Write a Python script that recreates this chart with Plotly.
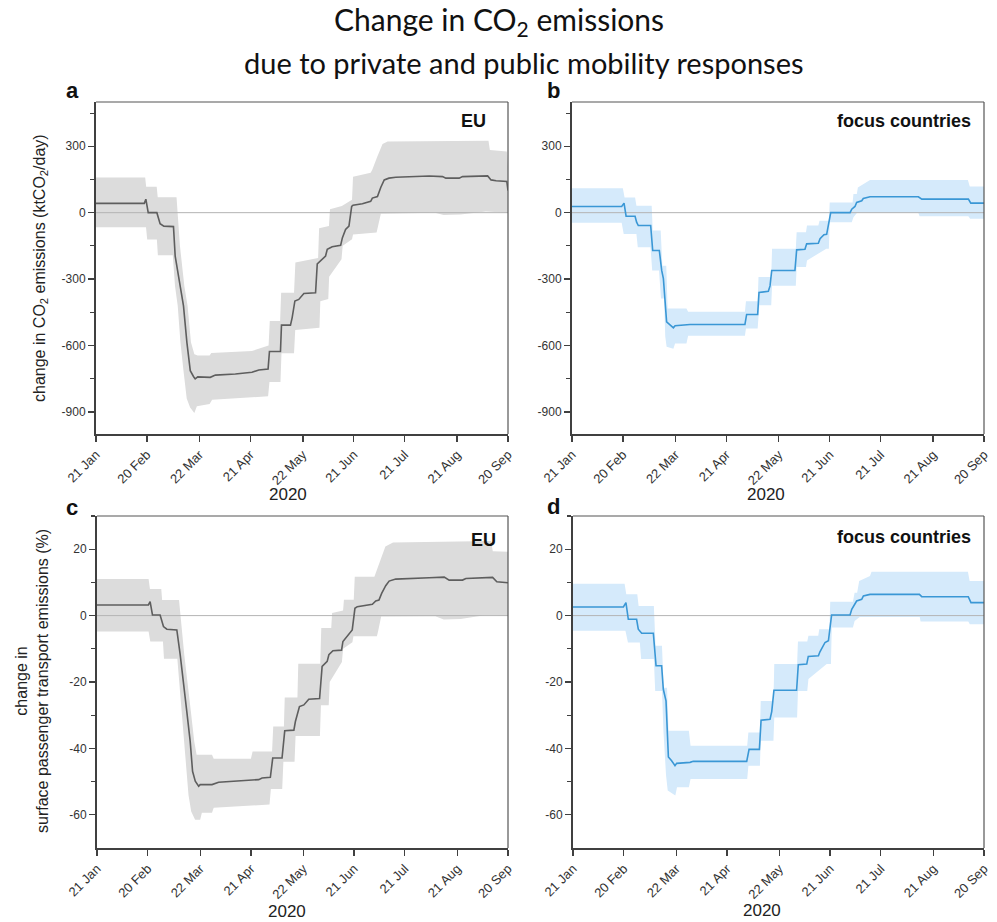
import plotly.graph_objects as go

# ---------------- data (x = days since 21 Jan 2020) ----------------
tick_days = [0, 30, 61, 91, 122, 152, 182, 213, 243]
tick_labels = ["21 Jan", "20 Feb", "22 Mar", "21 Apr", "22 May", "21 Jun", "21 Jul", "21 Aug", "20 Sep"]

kt_ticks = [-900, -600, -300, 0, 300]
kt_tick_labels = ["-900", "-600", "-300", "0", "300"]
kt_minor = [-750, -450, -150, 150, 450]
pct_ticks = [-60, -40, -20, 0, 20]
pct_tick_labels = ["-60", "-40", "-20", "0", "20"]
pct_minor = [-50, -30, -10, 10, 30]

# panel a: EU, ktCO2/day
a_mid_d = [0, 28.5, 29.4, 30.2, 30.8, 35.9, 37.8, 40, 45.7, 46.7, 49.7, 51.6, 53.6, 55.6, 57.5, 58.5, 60, 67.4, 70.4, 82.2,
           92, 96, 101.5, 102.3, 108.8, 109.4, 114.7, 115.7, 117.3, 119.6, 122.6, 129.5, 130.5, 133.4, 135.4, 136.4, 139.3, 144.3, 145.3, 147.2,
           149.2, 150.8, 151.6, 157.1, 162, 163, 166, 168, 170, 172.8, 176.8, 196.5, 204.4, 206.3, 214.2, 216.2, 231, 233, 236, 242.3, 243]
a_mid_v = [42, 42, 61, 30, 0, 0, -50, -61, -63, -196, -331, -421, -586, -714, -740, -751, -742, -744, -734, -729,
           -721, -711, -706, -627, -627, -508, -508, -474, -399, -392, -365, -362, -231, -212, -196, -166, -154, -147, -114, -76,
           -61, 28, 34, 40, 51, 66, 73, 115, 148, 156, 160, 166, 163, 156, 156, 163, 166, 148, 144, 141, 100]
a_up_d = [0, 29, 29.6, 35.8, 36.4, 47.5, 49.5, 52.1, 54, 56, 58, 60, 67, 68, 92, 96, 101.8, 102.5, 108.6, 109.2,
          116.8, 117.6, 131, 131.6, 137.4, 138, 145, 151, 151.6, 162, 163, 166, 169, 172, 231.5, 232.3, 242.3, 243]
a_up_v = [159, 159, 117, 117, 70, 70, -150, -331, -421, -586, -640, -645, -645, -634, -625, -615, -600, -490, -490, -362,
          -362, -225, -205, -70, -60, 15, 30, 58, 162, 180, 195, 255, 310, 321, 325, 283, 276, 210]
a_lo_d = [0, 29.5, 30.2, 35.9, 36.5, 45.3, 46.6, 48.2, 49.8, 51.6, 53.5, 55.5, 58, 59.5, 67, 68.5, 101.5, 102.3, 108.8, 109.4,
          116.8, 117.5, 131.8, 132.3, 137, 137.5, 144.8, 145.5, 151, 151.6, 165.5, 166.5, 168, 200, 205, 215, 230, 243]
a_lo_v = [-66, -66, -121, -121, -192, -192, -331, -421, -586, -714, -840, -880, -905, -875, -865, -845, -830, -765, -765, -635,
          -635, -530, -520, -400, -390, -290, -210, -150, -120, -99, -90, -50, -5, 0, -10, -8, 5, 0]

# panel b: focus countries, ktCO2/day
b_mid_d = [0, 29.3, 30.7, 31.9, 37.2, 38.1, 39.1, 46.4, 47.6, 51.5, 52.9, 53.9, 55.8, 57.8, 59.8, 60.8, 69.6, 102, 103, 109.5,
           110.3, 115.8, 116.8, 117.8, 131.5, 132.5, 137.4, 138.4, 145.3, 146.3, 148.6, 150.2, 152.6, 164, 165, 166.9, 167.9, 170.9, 171.8, 175.8,
           204.3, 206.3, 233.8, 235.2, 243]
b_mid_v = [28, 28, 43, -16, -16, -43, -58, -58, -171, -171, -261, -298, -493, -505, -520, -511, -505, -505, -460, -460,
           -361, -355, -331, -261, -261, -168, -165, -141, -138, -118, -100, -98, 0, 0, 16, 28, 46, 54, 64, 72,
           72, 61, 61, 43, 43]
b_up_d = [0, 30, 31, 37.2, 38, 47, 47.6, 52.3, 53.3, 55.6, 56.4, 67.5, 68.5, 102, 102.6, 109.5, 110, 117.5, 118, 132,
          132.5, 138, 138.6, 145.3, 146, 151.5, 152, 165.5, 166, 168, 168.6, 175.8, 233.5, 234.6, 243]
b_up_v = [110, 110, 69, 69, 31, 31, -81, -81, -240, -240, -433, -433, -448, -448, -400, -400, -291, -291, -163, -163,
          -88, -88, -58, -58, -36, -36, 46, 46, 84, 84, 114, 148, 148, 118, 118]
b_lo_d = [0, 29.3, 30.5, 38, 38.8, 46.3, 47.3, 51.3, 52.5, 54.3, 55, 55.8, 59.8, 60.8, 67.5, 68.5, 102, 102.6, 109.5, 110.5,
          117.5, 118, 132, 132.5, 138, 138.6, 150, 151.5, 152, 165, 166, 168, 204.3, 205, 233.8, 234.8, 243]
b_lo_v = [-46, -46, -96, -96, -156, -156, -261, -261, -388, -388, -560, -606, -615, -591, -591, -556, -556, -523, -523, -418,
          -418, -330, -330, -246, -246, -216, -163, -163, -43, -43, -21, -1, -1, -16, -16, -28, -28]

# panel c: EU, % of surface passenger transport emissions
c_mid_d = [0, 30.4, 31.4, 32.8, 37.3, 39.3, 41.3, 47.2, 49.2, 51.2, 53.1, 55.1, 56.5, 58.1, 60.1, 61, 68, 71.9, 83.8, 95.6,
           97.6, 102.5, 103.9, 109.4, 111, 116.4, 117.3, 119.7, 122.3, 125.2, 131.6, 133.1, 136.1, 137.1, 139.5, 144.6, 145.4, 148, 150.9, 152.5,
           153.9, 162.8, 164.8, 166.7, 168.3, 170.7, 172.7, 176.6, 192.4, 196.4, 205.3, 208.2, 216.1, 218.1, 233.9, 236.4, 243]
c_mid_v = [3.2, 3.2, 4.2, 0.2, 0.2, -3.3, -4.1, -4.3, -11.8, -19.8, -28.9, -37.9, -46.9, -49.9, -51.4, -50.9, -50.9, -50.2, -49.9, -49.4,
           -48.9, -48.7, -42.9, -42.9, -34.7, -34.5, -31.9, -27.4, -26.9, -25.2, -25.0, -15.3, -13.8, -11.8, -10.6, -10.4, -7.8, -6.3, -4.3, 2.2,
           2.7, 3.4, 4.4, 4.7, 6.7, 9.0, 10.4, 11.0, 11.2, 11.4, 11.6, 10.7, 10.7, 11.2, 11.5, 10.2, 9.9]
c_up_d = [0, 30.5, 31.3, 38, 38.5, 48.5, 51.6, 53.6, 55.5, 57.5, 58.9, 68, 69, 91, 92, 103.5, 104.2, 110.5, 111, 118.5,
          119, 132, 132.6, 138.5, 139, 145.5, 146, 151.8, 152.4, 164, 165, 167.5, 170.5, 175, 233, 234, 243]
c_up_v = [11, 11, 8, 8, 4.7, 4.7, -11.8, -19.8, -28.9, -37.9, -41.9, -41.9, -43.1, -43.1, -40.9, -40.9, -33.4, -33.4, -24.7, -24.7,
          -14.5, -14.5, -3.7, -3.7, 0.8, 1.5, 4.8, 4.8, 11.7, 11.7, 13.2, 16.7, 20.8, 22, 22.5, 19.4, 19.2]
c_lo_d = [0, 30.5, 31.5, 39, 39.6, 47.5, 48.8, 50.7, 52.7, 54.1, 55.7, 58, 61, 62, 68, 69, 102, 102.8, 109.5, 110.2,
          116.8, 117.4, 131.8, 132.4, 137, 137.6, 144.8, 145.5, 151, 151.6, 165.5, 166.3, 168, 200, 205, 215, 230, 243]
c_lo_v = [-4.8, -4.8, -7.8, -7.8, -13, -13, -22, -33, -45, -54, -59, -61.5, -61.5, -59.4, -59.4, -57.9, -56.9, -52.2, -52.2, -44,
          -44, -36.3, -36.3, -27, -27, -20, -14, -10, -8, -6.2, -6.2, -4.5, -0.3, -0.2, -1.2, -1.0, 0.2, 0]

# panel d: focus countries, %
d_mid_d = [0, 29.8, 31.3, 32.7, 37.6, 38.6, 40.6, 47.5, 49.1, 52.4, 53.4, 55, 56.4, 58.3, 60.3, 61.3, 69.2, 71.1, 102.7, 104.1,
           110.2, 111.2, 116.5, 117.5, 118.8, 132.2, 133.2, 138.2, 139.1, 145.1, 146, 149, 151, 152.9, 163.8, 164.8, 167.7, 170.7, 171.7, 175.6,
           204.8, 206.2, 233.7, 235.3, 243]
d_mid_v = [2.6, 2.6, 3.9, -1.1, -1.1, -4.1, -5.3, -5.3, -15.1, -15.1, -22.2, -25.7, -42.6, -43.7, -45.2, -44.5, -44.2, -43.9, -43.9, -40.3,
           -40.3, -31.5, -31.2, -28.9, -22.5, -22.5, -14.8, -14.6, -12.3, -12.1, -10.9, -8.1, -7.6, 0.2, 0.2, 1.9, 4.4, 4.9, 5.9, 6.4,
           6.4, 5.7, 5.7, 3.9, 3.9]
d_up_d = [0, 30.5, 31.5, 38, 38.8, 47.8, 48.8, 52.6, 53.6, 55.6, 56.5, 68.5, 69.5, 103, 103.7, 110.5, 111, 118.5, 119, 132.5,
          133, 138.5, 139.2, 145, 145.6, 151.6, 152.1, 165.5, 166.5, 168, 169.2, 175.6, 176.5, 233.5, 234.5, 243]
d_up_v = [9.6, 9.6, 6.4, 6.4, 2.9, 2.9, -9.1, -9.1, -21.7, -21.7, -34.7, -34.7, -39.2, -39.2, -35.2, -35.2, -25.7, -25.7, -14.6, -14.6,
          -7.8, -7.8, -6.1, -6.1, -4.1, -4.1, 4.2, 4.2, 6.9, 6.9, 10.4, 11.9, 13.2, 13.2, 10.4, 10.4]
d_lo_d = [0, 31, 32.5, 39.5, 40.3, 47.8, 48.6, 52.6, 53.5, 55, 56, 60.5, 61.5, 68.5, 69.5, 103, 103.7, 110.5, 111, 118.5,
          119, 132.5, 133, 138.5, 139.2, 150, 152.5, 153, 165.5, 166.5, 169.5, 205, 205.5, 233.7, 234.6, 243]
d_lo_v = [-4.6, -4.6, -8.1, -8.1, -13.1, -13.1, -22.7, -22.7, -35, -48, -52.7, -54.2, -51.7, -51.7, -49.2, -49.2, -45.2, -45.2, -37.7, -37.7,
          -30.7, -30.7, -22.7, -22.7, -19.1, -14.6, -14.6, -3.6, -3.6, -1.6, -0.4, -0.4, -1.8, -1.8, -2.6, -2.6]

# ---------------- styling ----------------
W, H = 997, 922
FONT = "Liberation Sans, Arial, sans-serif"
AX = "#404040"
EU_LINE, EU_BAND = "#5e5e5e", "#dcdcdc"
FC_LINE, FC_BAND = "#3a97d5", "#d5eafb"

panels = [
    dict(s="", xd=(96, 508), yd=(102, 434),
         mid=(a_mid_d, a_mid_v), up=(a_up_d, a_up_v), lo=(a_lo_d, a_lo_v),
         line=EU_LINE, band=EU_BAND, yr=(-1000, 500),
         yt=(kt_ticks, kt_tick_labels, kt_minor)),
    dict(s="2", xd=(572, 984), yd=(102, 434),
         mid=(b_mid_d, b_mid_v), up=(b_up_d, b_up_v), lo=(b_lo_d, b_lo_v),
         line=FC_LINE, band=FC_BAND, yr=(-1000, 500),
         yt=(kt_ticks, kt_tick_labels, kt_minor)),
    dict(s="3", xd=(97, 508), yd=(516, 848),
         mid=(c_mid_d, c_mid_v), up=(c_up_d, c_up_v), lo=(c_lo_d, c_lo_v),
         line=EU_LINE, band=EU_BAND, yr=(-70, 30),
         yt=(pct_ticks, pct_tick_labels, pct_minor)),
    dict(s="4", xd=(573, 984), yd=(516, 848),
         mid=(d_mid_d, d_mid_v), up=(d_up_d, d_up_v), lo=(d_lo_d, d_lo_v),
         line=FC_LINE, band=FC_BAND, yr=(-70, 30),
         yt=(pct_ticks, pct_tick_labels, pct_minor)),
]

fig = go.Figure()
layout = dict(width=W, height=H, margin=dict(l=0, r=0, t=0, b=0, pad=0, autoexpand=False), autosize=False,
              paper_bgcolor="white", plot_bgcolor="white", showlegend=False,
              font=dict(family=FONT, color="#222"))
shapes = []

for p in panels:
    xs, ys = "x" + p["s"], "y" + p["s"]
    ud, uv = p["up"]
    ld, lv = p["lo"]
    fig.add_trace(go.Scatter(x=ud + ld[::-1], y=uv + lv[::-1], fill="toself",
                             fillcolor=p["band"], line=dict(width=0), mode="lines",
                             hoverinfo="skip", xaxis=xs, yaxis=ys))
    fig.add_trace(go.Scatter(x=[tick_days[0], tick_days[-1]], y=[0, 0], mode="lines",
                             line=dict(color="#b4b4b4", width=1), hoverinfo="skip",
                             xaxis=xs, yaxis=ys))
    md, mv = p["mid"]
    fig.add_trace(go.Scatter(x=md, y=mv, mode="lines", line=dict(color=p["line"], width=1.6),
                             xaxis=xs, yaxis=ys))

    xkey, ykey = "xaxis" + p["s"], "yaxis" + p["s"]
    layout[xkey] = dict(domain=[p["xd"][0] / W, p["xd"][1] / W], range=[0, 243], automargin=False,
                        anchor=ys, tickmode="array", tickvals=tick_days, ticktext=tick_labels,
                        tickangle=-45, ticks="outside", ticklen=6, tickwidth=1.3, tickcolor=AX,
                        showline=True, linecolor=AX, linewidth=2, showgrid=False, zeroline=False,
                        tickfont=dict(family=FONT, size=13, color="#333"), fixedrange=True)
    yt, ytl, ym = p["yt"]
    layout[ykey] = dict(domain=[1 - p["yd"][1] / H, 1 - p["yd"][0] / H], range=list(p["yr"]), automargin=False,
                        anchor=xs, tickmode="array", tickvals=yt, ticktext=ytl,
                        ticks="outside", ticklen=6, tickwidth=1.3, tickcolor=AX,
                        minor=dict(tickvals=ym, ticks="outside", ticklen=4, tickwidth=1.1, tickcolor=AX),
                        showline=True, linecolor=AX, linewidth=2, showgrid=False, zeroline=False,
                        tickfont=dict(family=FONT, size=12, color="#333"), fixedrange=True)
    shapes.append(dict(type="line", xref=xs + " domain", yref=ys + " domain", x0=0, x1=1, y0=1, y1=1,
                       line=dict(color="#555", width=1.2)))
    shapes.append(dict(type="line", xref=xs + " domain", yref=ys + " domain", x0=1, x1=1, y0=0, y1=1,
                       line=dict(color="#555", width=1.2)))

layout["shapes"] = shapes


def ann(text, xpx, ypx, size, xanchor="center", yanchor="middle", angle=0, bold=False, family=FONT, color="#111"):
    return dict(text=("<b>%s</b>" % text) if bold else text, x=xpx / W, y=1 - ypx / H,
                xref="paper", yref="paper", xanchor=xanchor, yanchor=yanchor, showarrow=False,
                textangle=angle, font=dict(family=family, size=size, color=color))


TITLE_FONT = "Lato, Open Sans, sans-serif"
annotations = [
    ann("Change in CO<sub>2</sub> emissions", 499, 21, 30, family=TITLE_FONT, color="#111"),
    ann("due to private and public mobility responses", 524, 62, 29, family=TITLE_FONT, color="#111"),
    ann("a", 72, 90, 22, bold=True),
    ann("b", 553, 90, 22, bold=True),
    ann("c", 72, 507, 22, bold=True),
    ann("d", 553, 506, 22, bold=True),
    ann("EU", 488, 121, 18, xanchor="right", bold=True),
    ann("focus countries", 973, 121, 18, xanchor="right", bold=True),
    ann("EU", 498, 540, 18, xanchor="right", bold=True),
    ann("focus countries", 973, 537, 18, xanchor="right", bold=True),
    ann("change in CO<sub>2</sub> emissions (ktCO<sub>2</sub>/day)", 41, 268, 16, angle=-90, color="#222"),
    ann("change in<br>surface passenger transport emissions (%)", 32, 681, 16, angle=-90, color="#222"),
    ann("2020", 288, 494, 17, color="#222"),
    ann("2020", 766, 494, 17, color="#222"),
    ann("2020", 287, 911, 17, color="#222"),
    ann("2020", 762, 910, 17, color="#222"),
]
layout["annotations"] = annotations

fig.update_layout(**layout)
fig.write_html("out.html", config={"displayModeBar": False, "staticPlot": True},
               post_script="document.body.style.margin='0';document.body.style.overflow='hidden';")
